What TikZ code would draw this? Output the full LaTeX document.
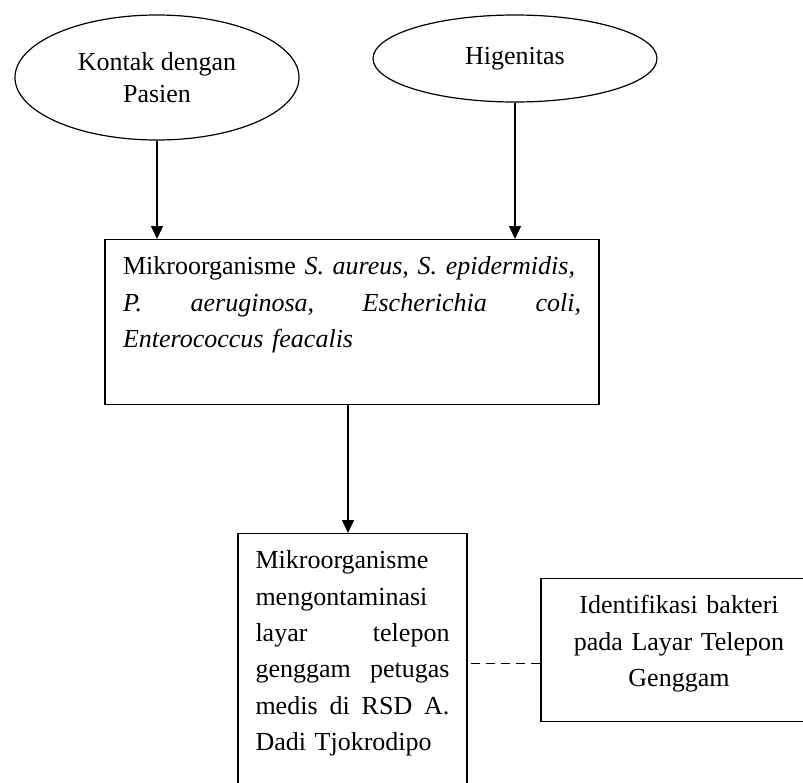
\documentclass[tikz,border=0pt]{standalone}
\usepackage{fontspec}
\setmainfont{Liberation Serif}
\usetikzlibrary{shapes.geometric,arrows.meta}

% extra room below the last line of a box
\newcommand{\luang}[1]{\rule[-#1]{0pt}{#1}}

\begin{document}
\begin{tikzpicture}[
    x=0.5pt, y=-0.5pt,
    line width=0.6pt,
    every node/.style={font=\fontsize{13}{18.2}\selectfont},
    faktor/.style={ellipse, draw, inner sep=0pt, align=center,
        minimum width=142pt, font=\fontsize{13}{16}\selectfont},
    kotak/.style={rectangle, draw, anchor=north, inner xsep=9pt, inner ysep=8.5pt},
    panah/.style={-{Triangle[width=6pt,length=6.5pt]}},
    garis/.style={dash pattern=on 4.5pt off 3pt}
]
\useasboundingbox (0,0) rectangle (803,782);

% === Faktor (atas) ===
\node[faktor, minimum height=62.5pt] (kontak) at (157,77.5) {Kontak dengan\\Pasien};
\node[faktor, minimum height=43.5pt] (higen) at (515,58.5) {Higenitas};

% Mikroorganisme
\node[kotak, text width=229pt, align=left] (mikro) at (352,239)
    {Mikroorganisme \textit{S. aureus, S. epidermidis,}\\
     \textit{P.}\hfill\textit{aeruginosa,}\hfill\textit{Escherichia}\hfill\textit{coli,}\\
     \textit{Enterococcus feacalis}\luang{20pt}};

% Kontaminasi
\node[kotak, inner xsep=8.75pt, text width=97pt, align=left] (kontam) at (352.5,533)
    {Mikroorganisme\\
     mengontaminasi\\
     layar\hfill telepon\\
     genggam\hfill petugas\\
     medis\hfill di\hfill RSD\hfill A.\\
     Dadi Tjokrodipo\luang{16pt}};

% Identifikasi
\node[kotak, text width=120pt, align=center] (ident) at (679,578)
    {Identifikasi bakteri\\
     pada Layar Telepon\\
     Genggam\luang{9pt}};

% === Panah ===
\draw[panah] (kontak.south) -- (kontak.south |- mikro.north);
\draw[panah] (higen.south) -- (higen.south |- mikro.north);
\draw[panah] ([xshift=-2.25pt]kontam.north |- mikro.south) -- ([xshift=-2.25pt]kontam.north);
\draw[garis] ([yshift=-6.5pt]ident.west) -- ([yshift=-6.5pt]ident.west -| kontam.east);

\end{tikzpicture}
\end{document}
